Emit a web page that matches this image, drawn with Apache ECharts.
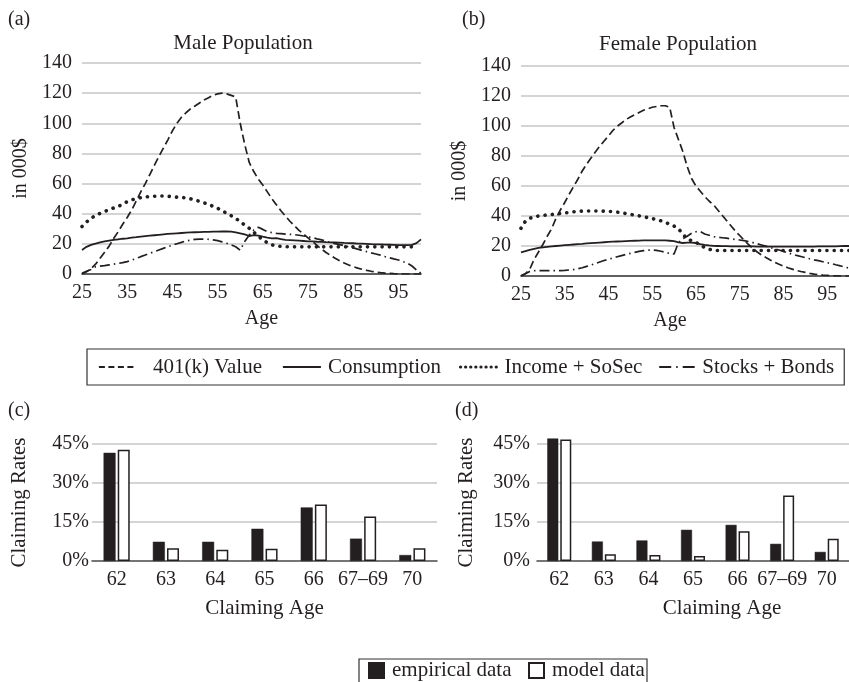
<!DOCTYPE html>
<html>
<head>
<meta charset="utf-8">
<script src="https://cdn.jsdelivr.net/npm/echarts@6/dist/echarts.min.js"></script>
<style>
html,body{margin:0;padding:0;background:#fff;}
#c{width:849px;height:682px;}
</style>
</head>
<body>
<div id="c"></div>
<script>
const ages = ['25','26','27','28','29','30','31','32','33','34','35','36','37','38','39','40','41','42','43','44','45','46','47','48','49','50','51','52','53','54','55','56','57','58','59','60','61','62','63','64','65','66','67','68','69','70','71','72','73','74','75','76','77','78','79','80','81','82','83','84','85','86','87','88','89','90','91','92','93','94','95','96','97','98','99','100'];
const yTicks = [0, 20, 40, 60, 80, 100, 120, 140];

const male401k = [0,1.5,3.5,6.5,10.5,14.5,18.5,23.5,28,33,37.5,42.5,48.5,54.5,60,66,72,78,83.5,89,95,100,104,107,109.5,111.5,113.5,115.5,117,118.5,119.5,120,119.5,118.5,117.5,100,86,74,68,63,59,54.5,50,46,42,38.5,35,32,29,26.5,24,21.5,19,16.5,14.3,12.3,10.4,8.8,7.3,6,4.9,3.9,3.1,2.4,1.8,1.3,0.9,0.6,0.4,0.2,0.1,0,0,0,0,0];
const maleConsumption = [16,18,19.3,20.2,21,21.6,22.1,22.6,23,23.4,23.7,24.1,24.4,24.8,25.1,25.4,25.7,26,26.3,26.6,26.8,27,27.2,27.4,27.6,27.7,27.8,27.9,28,28.1,28.1,28.2,28.2,28.1,27.6,27,26.3,25.2,25.8,25.5,24.8,24.2,23.7,23.8,23.2,22.6,22.5,22.3,22.1,21.9,21.7,21.6,21.4,21.3,21.1,21,20.9,20.8,20.6,20.5,20.4,20.2,20.1,20,19.8,19.7,19.6,19.5,19.4,19.3,19.2,19.2,19.2,19.3,20.5,23];
const maleIncome = [31.5,34.5,37,38.8,40.2,41.5,42.7,43.8,44.8,46.3,48,49.2,50,50.7,51.1,51.4,51.6,51.8,51.8,51.6,51.3,51,50.8,50.5,49.9,49.1,48.2,47.2,46.2,44.9,43.6,42,40.3,38.7,37,34.7,32.5,30.3,27.7,25.2,22.6,20.8,19.3,18.7,18.3,18.1,18,18,18,18,18,18,18,18,18,18,18,18,18,18,18,18,18,18,18,18,18,18,18,18,18,18,18,18,18,null];
const maleStocks = [0.5,1.8,3,4.8,5.2,5.5,6,6.5,7,7.5,8.2,9.2,10.3,11.5,12.6,13.7,14.8,15.9,17,18.1,19.2,20.1,21,21.9,22.5,23,23.2,23.2,23,22.6,22.1,21.3,20.4,19.3,18.1,15.8,21.5,25.9,29.2,31,29.6,28.1,27.5,27,26.8,26.5,26.3,26.1,25.7,25.2,24.8,24.1,23.3,22.6,21.7,20.8,20.1,19.5,18.8,18,17.3,16.5,15.6,14.8,14,13.3,12.5,11.6,10.8,10,9.3,8.2,7.1,5.3,2.7,0.4];

const female401k = [0,1.5,4.5,11,16,21,26.5,31.5,38.5,44,49,54.5,59.5,64.5,70,74.5,78.6,82.7,86.5,90,93.3,97,99.8,102,104.3,106,107.5,109,110.5,111.5,112.5,113,113.5,113.5,112.5,99,91,83,73,65,60,56.5,53,50,47.5,44,40.5,37,33.5,30,27,24,21,18.5,16,14,12.3,10.7,9.2,7.8,6.6,5.5,4.6,3.7,3,2.4,1.8,1.3,0.9,0.6,0.4,0.2,0.1,0,0,0];
const femaleConsumption = [15.8,16.6,17.4,18.1,18.7,19.1,19.4,19.7,20,20.3,20.6,20.8,21,21.2,21.4,21.7,21.9,22.1,22.3,22.5,22.7,22.9,23,23.1,23.3,23.4,23.5,23.6,23.7,23.7,23.8,23.8,23.8,23.7,23.5,23.2,22.4,22,22.2,22.3,22,21.3,20.8,20.4,20.1,20,19.9,19.9,19.8,19.8,19.8,19.7,19.7,19.7,19.6,19.6,19.6,19.6,19.6,19.6,19.6,19.6,19.6,19.6,19.6,19.6,19.6,19.6,19.7,19.7,19.7,19.8,19.8,19.9,20,20];
const femaleIncome = [31.8,36.5,38.5,39.4,40,40.4,40.7,41,41.3,41.7,42,42.4,42.8,43.1,43.3,43.3,43.3,43.3,43.3,43.2,43.1,42.9,42.6,42.2,41.6,41.1,40.6,40.1,39.5,38.9,38.3,37.6,36.8,35.8,34.5,33.3,31.5,28,24.8,23.5,22.5,20.5,19,17.8,17.2,17,17,17,17,17,17,17,17,17,17,17,17,17,17,17,17,17,17,17,17,17,17,17,17,17,17,17,17,17,17,17];
const femaleStocks = [0.2,1.5,3,3.5,3.6,3.6,3.6,3.6,3.6,3.6,3.7,4,4.3,4.8,5.5,6.4,7.3,8.3,9.3,10.3,11.2,11.9,12.8,13.6,14.4,15.1,15.7,16.4,16.9,17.2,17.3,17.1,16.5,15.8,15,14.7,22.2,24.8,26.5,28.5,29.5,29.6,28,27.2,26.2,25.8,25.5,25.2,24.8,24.4,24,23.6,23,22.3,21.5,20.7,19.9,19,18.1,17.3,16.4,15.5,14.5,13.7,13,12.2,11.5,10.8,10.2,9.5,8.9,8.3,7.5,6.8,6,5.3];

const claimAges = ['62','63','64','65','66','67–69','70'];
const maleEmpirical = [41.6,7.4,7.4,12.4,20.6,8.6,2.3];
const maleModel = [42.8,4.9,4.3,4.7,21.7,17.1,4.9];
const femaleEmpirical = [47.1,7.5,7.9,12.0,13.9,6.6,3.5];
const femaleModel = [46.7,2.6,2.3,1.9,11.4,25.2,8.6];
const pctTicks = [0, 15, 30, 45];

const lineNames = ['401(k) Value','Consumption','Income + SoSec','Stocks + Bonds'];
const barNames = ['empirical data','model data'];

const FONT = 'Liberation Serif';
const INK = '#231f20';
const GRID = '#c6c6c6';

const lineStyles = [
  {color: INK, width: 1.7, type: [8, 4]},
  {color: INK, width: 1.8, type: 'solid'},
  {color: INK, width: 3.6, type: [0.1, 7.2], cap: 'round'},
  {color: INK, width: 1.7, type: [10, 4, 1.5, 4]}
];
const legendLineStyles = [
  {color: INK, width: 1.8, type: [6, 3.5]},
  {color: INK, width: 2, type: 'solid'},
  {color: INK, width: 3.2, type: [0.1, 5], cap: 'round'},
  {color: INK, width: 1.8, type: [12, 5, 1.5, 5]}
];
const legendTextPad = [11, 2, 1, 0];
const legendTextWidth = [113, 115, 128, 131];

function lineSeries(idx, data, axis) {
  return {
    type: 'line', name: lineNames[idx], data: data,
    xAxisIndex: axis, yAxisIndex: axis,
    symbol: 'none', smooth: false, silent: true,
    lineStyle: lineStyles[idx],
    itemStyle: {color: INK},
    z: 10 - idx
  };
}

function lineX(grid, nameShift) {
  return {
    type: 'category', gridIndex: grid, data: ages, boundaryGap: false,
    axisTick: {show: false},
    axisLine: {show: true, lineStyle: {color: '#3a3a3a', width: 1.6}},
    axisLabel: {interval: 9, margin: 9, fontFamily: FONT, fontSize: 20, color: INK},
    name: 'Age', nameLocation: 'middle', nameGap: 35,
    nameTextStyle: {fontFamily: FONT, fontSize: 20, color: INK, padding: nameShift}
  };
}
function lineY(grid, gap) {
  return {
    type: 'value', gridIndex: grid, min: yTicks[0], max: yTicks[yTicks.length - 1], interval: 20,
    axisLine: {show: false}, axisTick: {show: false},
    splitLine: {show: true, lineStyle: {color: GRID, width: 1.5}},
    axisLabel: {margin: 10, fontFamily: FONT, fontSize: 20, color: INK},
    name: 'in 000$', nameLocation: 'middle', nameRotate: 90, nameGap: gap,
    nameTextStyle: {fontFamily: FONT, fontSize: 20, color: INK}
  };
}
function barX(grid, nameShift) {
  return {
    type: 'category', gridIndex: grid, data: claimAges,
    axisTick: {show: false},
    axisLine: {show: true, lineStyle: {color: '#555555', width: 1.6}},
    axisLabel: {interval: 0, hideOverlap: false, margin: 9, fontFamily: FONT, fontSize: 20, color: INK},
    name: 'Claiming Age', nameLocation: 'middle', nameGap: 37,
    nameTextStyle: {fontFamily: FONT, fontSize: 21, color: INK, padding: nameShift}
  };
}
function barY(grid, gap, margin) {
  return {
    type: 'value', gridIndex: grid, min: pctTicks[0], max: pctTicks[pctTicks.length - 1], interval: 15,
    axisLine: {show: false}, axisTick: {show: false},
    splitLine: {show: true, lineStyle: {color: GRID, width: 1.5}},
    axisLabel: {margin: margin, formatter: '{value}%', fontFamily: FONT, fontSize: 20, color: INK},
    name: 'Claiming Rates', nameLocation: 'middle', nameRotate: 90, nameGap: gap,
    nameTextStyle: {fontFamily: FONT, fontSize: 21, color: INK}
  };
}
function barSeries(idx, data, axis, bw) {
  const filled = idx === 0;
  return {
    type: 'bar', name: barNames[idx], data: data,
    xAxisIndex: axis, yAxisIndex: axis,
    barWidth: bw, barGap: '18%', clip: false, silent: true,
    itemStyle: {color: filled ? INK : '#ffffff', borderColor: INK, borderWidth: filled ? 0.5 : 1.5}
  };
}

const titleStyle = {fontFamily: FONT, fontSize: 20, fontWeight: 'normal', color: INK};
function label(text, left, top, align, size) {
  return {text: text, left: left, top: top, padding: 0, textAlign: align || 'left',
    textStyle: Object.assign({}, titleStyle, size ? {fontSize: size} : {})};
}

const chart = echarts.init(document.getElementById('c'), null, {renderer: 'canvas'});
chart.setOption({
  animation: false,
  backgroundColor: '#ffffff',
  title: [
    label('(a)', 8, 10),
    label('(b)', 462, 10),
    label('(c)', 8, 401),
    label('(d)', 455, 401),
    label('Male Population', 243, 33, 'center', 21),
    label('Female Population', 678, 34, 'center', 21)
  ],
  legend: [
    {
      data: lineNames.map((n, i) => ({
        name: n, lineStyle: legendLineStyles[i],
        textStyle: {width: legendTextWidth[i], padding: [0, 0, 0, legendTextPad[i]]}
      })),
      left: 87, top: 349, width: 760, orient: 'horizontal',
      padding: [7, 10, 7, 11], itemGap: 16, itemWidth: 38, itemHeight: 14,
      borderColor: '#333333', borderWidth: 1.2, borderRadius: 0,
      selectedMode: false,
      itemStyle: {opacity: 0},
      textStyle: {fontFamily: FONT, fontSize: 21, color: INK, lineHeight: 22}
    },
    {
      data: barNames.map((n, i) => ({name: n, textStyle: {width: [120, 93][i]}})),
      left: 359, top: 659, orient: 'horizontal', icon: 'rect',
      padding: [1, 2, 6, 9], itemGap: 16, itemWidth: 15, itemHeight: 15,
      borderColor: '#333333', borderWidth: 1.2, borderRadius: 0,
      selectedMode: false,
      textStyle: {fontFamily: FONT, fontSize: 21, color: INK, lineHeight: 20, padding: [0, 0, 0, 3]}
    }
  ],
  grid: [
    {left: 82, top: 63, width: 339, height: 211},
    {left: 521, top: 66, width: 334, height: 210},
    {left: 92, top: 444, width: 345, height: 117},
    {left: 537, top: 444, width: 320, height: 117}
  ],
  xAxis: [
    lineX(0, [0, 0, 0, 20]),
    lineX(1, [0, 30, 0, 0]),
    barX(2, [0, 0, 0, 0]),
    barX(3, [0, 0, 0, 58])
  ],
  yAxis: [
    lineY(0, 51),
    lineY(1, 51),
    barY(2, 62, 3),
    barY(3, 60, 7)
  ],
  series: [
    lineSeries(0, male401k, 0),
    lineSeries(1, maleConsumption, 0),
    lineSeries(2, maleIncome, 0),
    lineSeries(3, maleStocks, 0),
    lineSeries(0, female401k, 1),
    lineSeries(1, femaleConsumption, 1),
    lineSeries(2, femaleIncome, 1),
    lineSeries(3, femaleStocks, 1),
    barSeries(0, maleEmpirical, 2, 12),
    barSeries(1, maleModel, 2, 12),
    barSeries(0, femaleEmpirical, 3, 11),
    barSeries(1, femaleModel, 3, 11)
  ]
});
</script>
</body>
</html>
